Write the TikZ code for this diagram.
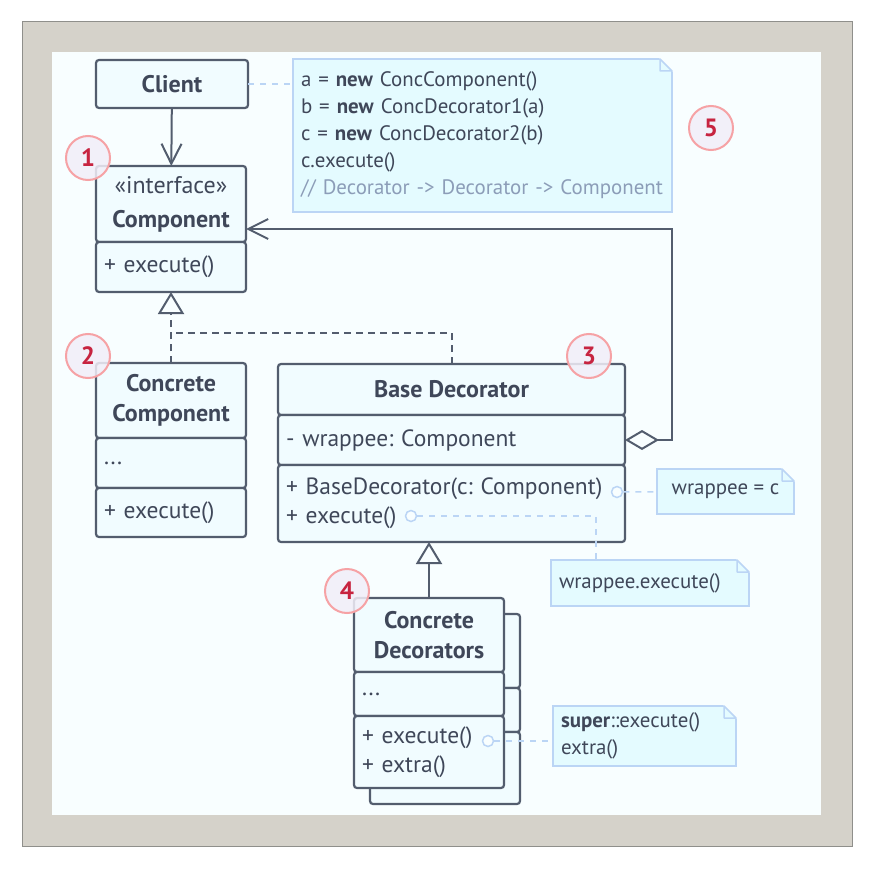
\documentclass[tikz,border=0pt]{standalone}
\usepackage{fontspec}
\setmainfont{PT Sans}
\usetikzlibrary{positioning,arrows.meta}
\frenchspacing

\definecolor{linec}{HTML}{535D6E}
\definecolor{boxfill}{HTML}{F1FCFF}
\definecolor{notefill}{HTML}{E4FBFF}
\definecolor{notedraw}{HTML}{BBD5F5}
\definecolor{textc}{HTML}{3F4759}
\definecolor{commentc}{HTML}{8C9DB8}
\definecolor{numdraw}{HTML}{F6A2A5}
\definecolor{numfill}{HTML}{F2EEF8}
\definecolor{numtext}{HTML}{C72440}
\definecolor{framegray}{HTML}{D5D2CA}
\definecolor{frameedge}{HTML}{8F8F8B}
\definecolor{canvasbg}{HTML}{F8FEFF}

\newcommand\headfont{\fontsize{24}{30}\selectfont\bfseries}
\newcommand\memberfont{\fontsize{23.5}{29}\selectfont}
\newcommand\notefont{\fontsize{20.9}{27}\selectfont}
% folded corner of a note
\newcommand\notefold[1]{%
  \fill[canvasbg] ([xshift=-13pt,yshift=1pt]#1.north east) -- ([xshift=1pt,yshift=1pt]#1.north east) -- ([xshift=1pt,yshift=-13pt]#1.north east) -- cycle;
  \draw[notedraw, fill=notefill, line width=1.5pt, line join=round] ([xshift=-12pt]#1.north east) -- ([yshift=-12pt]#1.north east) -- ([xshift=-12pt,yshift=-12pt]#1.north east) -- cycle;}

\tikzset{
  uml/.style={draw=linec, fill=boxfill, line width=2.2pt, rounded corners=3pt, outer sep=0pt, text=textc, minimum width=150pt, inner xsep=8pt},
  head/.style={uml, font=\headfont, align=center},
  members/.style={uml, font=\memberfont, align=left, text width=134pt},
  note/.style={draw=notedraw, fill=notefill, line width=1.5pt, outer sep=0pt, text=textc, font=\notefont, align=left, inner xsep=8pt},
  badge/.style={circle, draw=numdraw, line width=2pt, fill=numfill, fill opacity=0.85, text opacity=1, text=numtext, font=\fontsize{25}{25}\selectfont\bfseries, minimum size=44pt, inner sep=0pt},
  portdot/.style={circle, draw=notedraw, fill=canvasbg, line width=1.5pt, minimum size=11pt, inner sep=0pt},
  notelink/.style={draw=notedraw, line width=1.5pt, dash pattern=on 6pt off 6pt},
  assoc/.style={draw=linec, line width=2pt, -{Straight Barb[length=20pt,width=20pt]}},
  inherit/.style={draw=linec, line width=2pt, -{Triangle[open,length=22pt,width=26pt]}},
  realize/.style={inherit, dash pattern=on 7pt off 5pt},
  aggr/.style={draw=linec, line width=2pt, {Diamond[open,length=34pt,width=20pt]}-{Straight Barb[length=20pt,width=20pt]}}
}

\begin{document}
\begin{tikzpicture}[x=1pt, y=-1pt]
% frame
\useasboundingbox (0,0) rectangle (875,869);
\fill[framegray, draw=frameedge, line width=1pt] (22,22) rectangle (852,846);
\fill[canvasbg] (52,52) rectangle (821,815);

% client and component
\node[head, minimum width=152pt, minimum height=48pt, anchor=north west] (client) at (96,60) {Client};
\node[head, minimum height=76pt, anchor=north west] (component) at (96,166) {{\mdseries «interface»}\\[4pt]Component};
\node[members, minimum height=50pt, below=0pt of component] (component-ops) {+ execute()};

% concrete component
\node[head, minimum height=75pt, anchor=north west] (ccomp) at (96,363) {Concrete\\Component};
\node[members, minimum height=50pt, below=0pt of ccomp] (ccomp-fields) {...};
\node[members, minimum height=49pt, below=0pt of ccomp-fields] (ccomp-ops) {+ execute()};

% base decorator
\node[head, minimum width=347pt, minimum height=51pt, anchor=north west] (bdec) at (278,364) {Base Decorator};
\node[members, minimum width=347pt, text width=331pt, minimum height=50pt, below=0pt of bdec] (bdec-fields) {- wrappee: Component};
\node[members, minimum width=347pt, text width=331pt, minimum height=77pt, below=0pt of bdec-fields] (bdec-ops) {+ BaseDecorator(c: Component)\\+ execute()};

% concrete decorators (copy behind, then front)
\node[head, minimum height=74pt, anchor=north west] (cdec-back) at (370,614) {};
\node[members, minimum height=44pt, below=0pt of cdec-back] (cdec-back-fields) {};
\node[members, minimum height=72pt, below=0pt of cdec-back-fields] (cdec-back-ops) {};
\node[head, minimum height=74pt, anchor=north west] (cdec) at (354,598) {Concrete\\Decorators};
\node[members, minimum height=44pt, below=0pt of cdec] (cdec-fields) {...};
\node[members, minimum height=72pt, below=0pt of cdec-fields] (cdec-ops) {+ execute()\\+ extra()};

% notes
\node[note, minimum width=379pt, minimum height=153pt, text width=363pt, anchor=north west] (code) at (293,59)
  {a = \textbf{new} ConcComponent()\\b = \textbf{new} ConcDecorator1(a)\\c = \textbf{new} ConcDecorator2(b)\\c.execute()\\\mbox{\color{commentc}// Decorator -> Decorator -> Component}};
\notefold{code}
\node[note, align=center, minimum width=137pt, minimum height=45pt, anchor=north west] (wrap-note) at (657,469) {wrappee = c};
\notefold{wrap-note}
\node[note, minimum width=198pt, minimum height=46pt, text width=182pt, anchor=north west] (exec-note) at (551,560) {wrappee.execute()};
\notefold{exec-note}
\node[note, minimum width=183pt, minimum height=60pt, text width=167pt, anchor=north west] (super-note) at (553,706) {\textbf{super}::execute()\\extra()};
\notefold{super-note}

% note links
\node[portdot] (dot-ctor) at (617,492) {};
\node[portdot] (dot-exec) at (411,516) {};
\node[portdot] (dot-super) at (488,741) {};
\coordinate (exec-bend) at (596,516);
\draw[notelink] (client) -- (client -| code.west);
\draw[notelink] (dot-ctor) -- (wrap-note);
\draw[notelink] (dot-exec) -- (exec-bend) -- (exec-bend |- exec-note.north);
\draw[notelink] (dot-super) -- (dot-super -| super-note.west);

% relations
\coordinate (impl-join) at (171,333);
\draw[assoc] (client) -- (component);
\draw[realize] (ccomp) -- (component-ops);
\draw[realize, -] (bdec.north) |- (impl-join);
\draw[inherit] (cdec) -- (cdec |- bdec-ops.south);
\draw[aggr] (bdec-fields.east) -- ++(47,0) |- ([yshift=-25pt]component.east);

% numbered badges
\node[badge] (badge-1) at (88,158) {1};
\node[badge] (badge-2) at (88,356) {2};
\node[badge] (badge-3) at (589,356) {3};
\node[badge] (badge-4) at (347,591) {4};
\node[badge] (badge-5) at (711,128) {5};
\end{tikzpicture}
\end{document}
